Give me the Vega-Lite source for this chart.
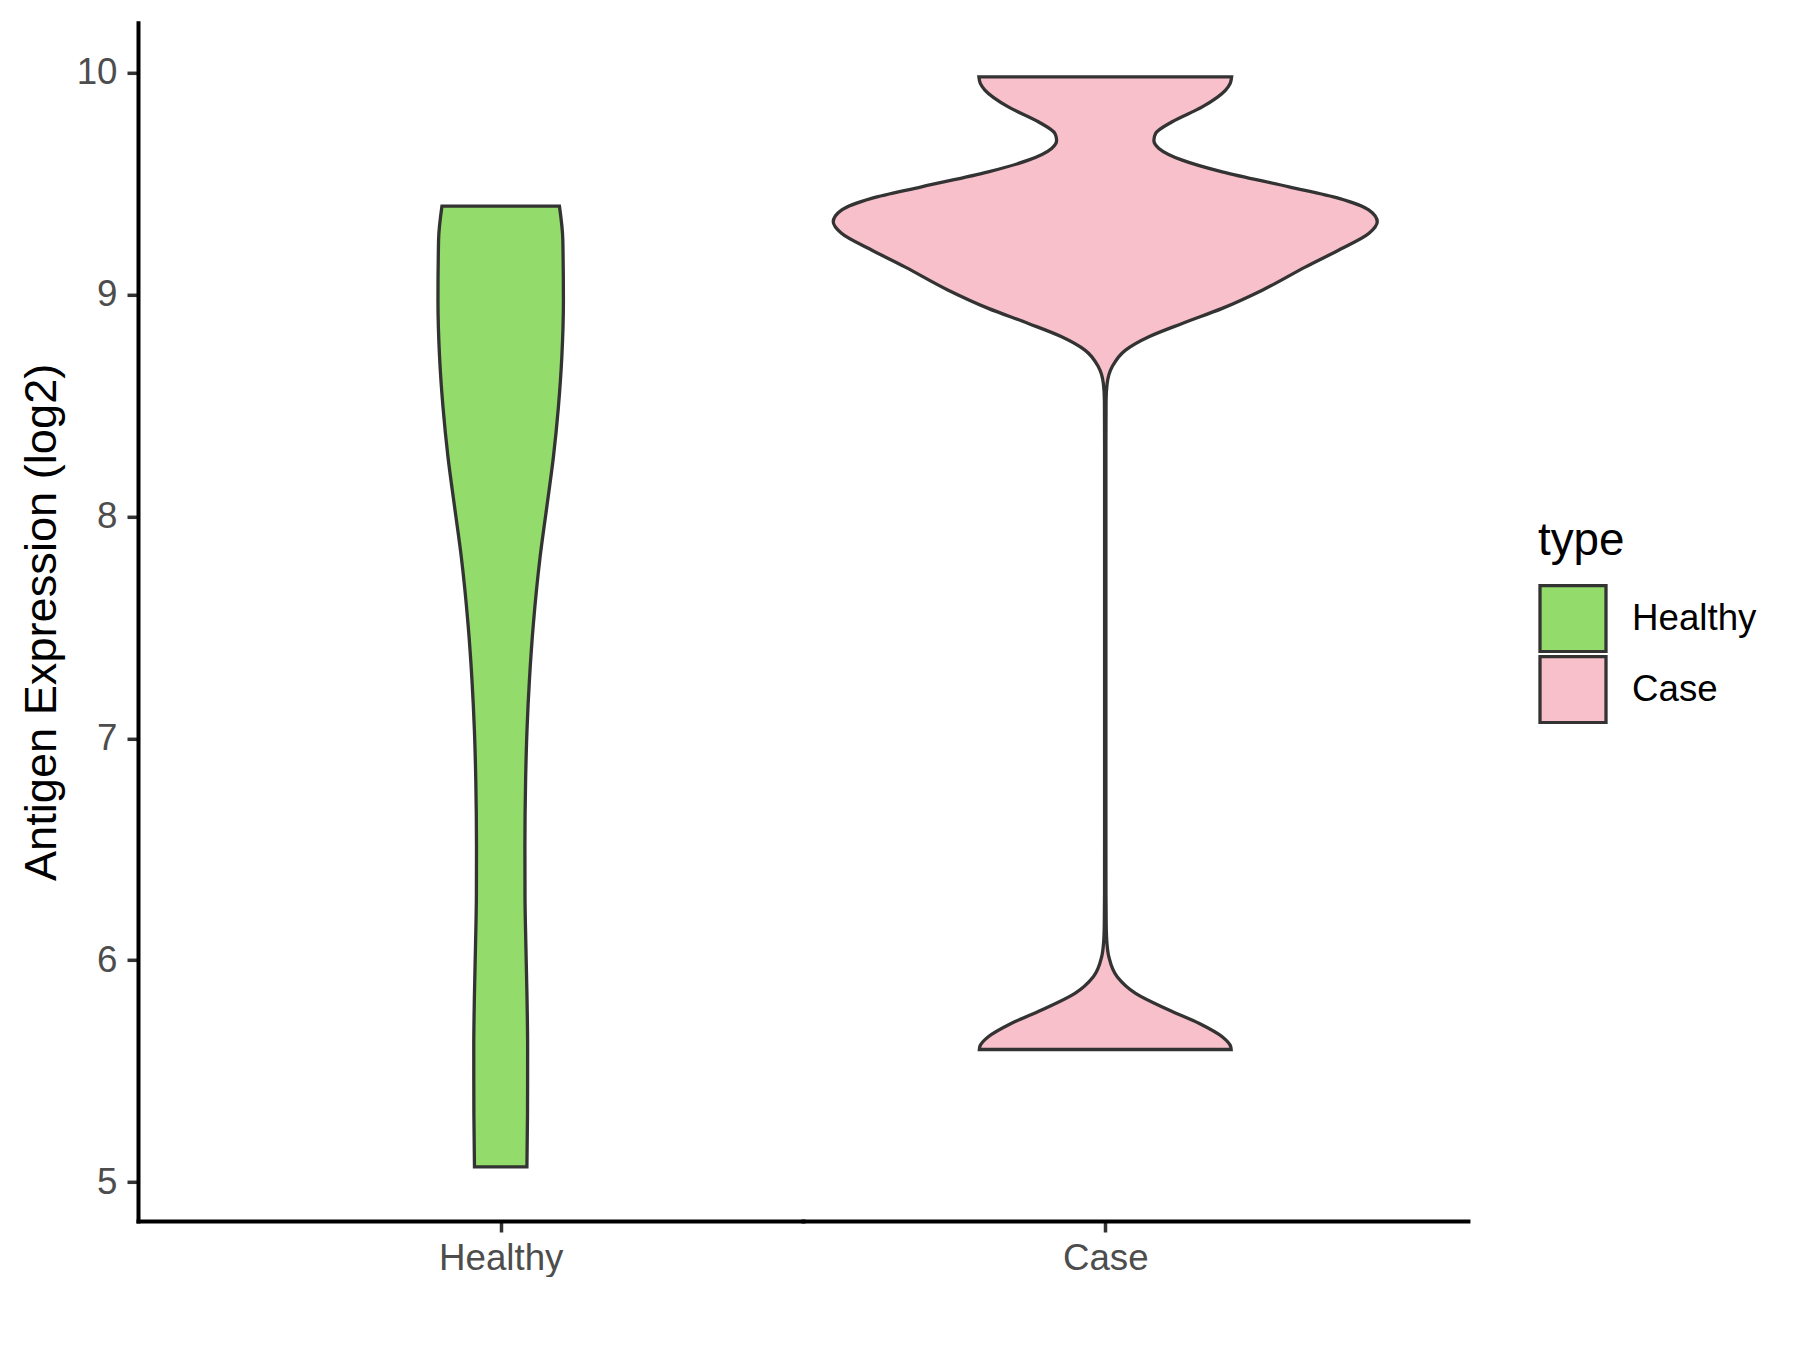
{
  "$schema": "https://vega.github.io/schema/vega-lite/v6.json",
  "background": "white",
  "padding": {"left": 19, "top": 22.8, "right": 0, "bottom": 0},
  "config": {
    "view": {"stroke": null},
    "font": "Liberation Sans"
  },
  "data": {
    "values": [
      {"type": "Healthy", "value": 9.399, "density": 0.2159},
      {"type": "Healthy", "value": 9.246, "density": 0.2284},
      {"type": "Healthy", "value": 8.975, "density": 0.2306},
      {"type": "Healthy", "value": 8.72, "density": 0.2248},
      {"type": "Healthy", "value": 8.494, "density": 0.2122},
      {"type": "Healthy", "value": 8.269, "density": 0.1939},
      {"type": "Healthy", "value": 8.044, "density": 0.1696},
      {"type": "Healthy", "value": 7.818, "density": 0.1449},
      {"type": "Healthy", "value": 7.518, "density": 0.1203},
      {"type": "Healthy", "value": 7.263, "density": 0.1056},
      {"type": "Healthy", "value": 7.037, "density": 0.0967},
      {"type": "Healthy", "value": 6.812, "density": 0.0916},
      {"type": "Healthy", "value": 6.512, "density": 0.089},
      {"type": "Healthy", "value": 6.286, "density": 0.0894},
      {"type": "Healthy", "value": 6.061, "density": 0.0927},
      {"type": "Healthy", "value": 5.835, "density": 0.0967},
      {"type": "Healthy", "value": 5.61, "density": 0.099},
      {"type": "Healthy", "value": 5.31, "density": 0.0986},
      {"type": "Healthy", "value": 5.069, "density": 0.0964},
      {"type": "Case", "value": 9.9815, "density": 0.4646},
      {"type": "Case", "value": 9.952, "density": 0.4594},
      {"type": "Case", "value": 9.922, "density": 0.4425},
      {"type": "Case", "value": 9.846, "density": 0.3564},
      {"type": "Case", "value": 9.779, "density": 0.2461},
      {"type": "Case", "value": 9.726, "density": 0.185},
      {"type": "Case", "value": 9.696, "density": 0.1788},
      {"type": "Case", "value": 9.659, "density": 0.1972},
      {"type": "Case", "value": 9.606, "density": 0.2829},
      {"type": "Case", "value": 9.553, "density": 0.43},
      {"type": "Case", "value": 9.486, "density": 0.6754},
      {"type": "Case", "value": 9.434, "density": 0.8593},
      {"type": "Case", "value": 9.381, "density": 0.9697},
      {"type": "Case", "value": 9.328, "density": 1.0},
      {"type": "Case", "value": 9.276, "density": 0.9697},
      {"type": "Case", "value": 9.201, "density": 0.8593},
      {"type": "Case", "value": 9.125, "density": 0.7368},
      {"type": "Case", "value": 9.02, "density": 0.5772},
      {"type": "Case", "value": 8.938, "density": 0.43},
      {"type": "Case", "value": 8.87, "density": 0.2829},
      {"type": "Case", "value": 8.81, "density": 0.1604},
      {"type": "Case", "value": 8.75, "density": 0.0747},
      {"type": "Case", "value": 8.675, "density": 0.0254},
      {"type": "Case", "value": 8.6, "density": 0.007},
      {"type": "Case", "value": 8.52, "density": 0.003},
      {"type": "Case", "value": 8.3, "density": 0.0024},
      {"type": "Case", "value": 7.5, "density": 0.0024},
      {"type": "Case", "value": 6.8, "density": 0.0024},
      {"type": "Case", "value": 6.3, "density": 0.0026},
      {"type": "Case", "value": 6.16, "density": 0.0035},
      {"type": "Case", "value": 6.09, "density": 0.0055},
      {"type": "Case", "value": 6.016, "density": 0.0132},
      {"type": "Case", "value": 5.926, "density": 0.0438},
      {"type": "Case", "value": 5.851, "density": 0.1115},
      {"type": "Case", "value": 5.776, "density": 0.234},
      {"type": "Case", "value": 5.716, "density": 0.3443},
      {"type": "Case", "value": 5.655, "density": 0.43},
      {"type": "Case", "value": 5.612, "density": 0.4609},
      {"type": "Case", "value": 5.598, "density": 0.4628}
    ]
  },
  "spacing": 0,
  "hconcat": [
    {
      "width": 664.95,
      "height": 1198.2,
      "transform": [{"filter": "datum.type === 'Healthy'"}],
      "mark": {"type": "area", "orient": "horizontal", "interpolate": "monotone", "stroke": "#333333", "strokeWidth": 3.3, "opacity": 1},
      "encoding": {
        "y": {
          "field": "value", "type": "quantitative",
          "scale": {"domain": [4.825, 10.225], "nice": false, "zero": false},
          "axis": {
            "title": "Antigen Expression (log2)",
            "values": [5, 6, 7, 8, 9, 10],
            "grid": false,
            "domainColor": "black", "domainWidth": 4, "domainCap": "square",
            "tickColor": "#333333", "tickWidth": 3.5, "tickSize": 11,
            "labelFont": "Liberation Sans", "labelFontSize": 36.7, "labelColor": "#4D4D4D", "labelPadding": 10,
            "titleFont": "Liberation Sans", "titleFontSize": 45.2, "titleFontWeight": "normal", "titleColor": "black", "titlePadding": 12
          }
        },
        "x": {
          "field": "density", "type": "quantitative", "stack": "center", "impute": null,
          "scale": {"domain": [-0.5514, 0.6709], "nice": false, "zero": false},
          "axis": {
            "title": null, "values": [0.1153], "labelExpr": "'Healthy'", "grid": false,
            "domainColor": "black", "domainWidth": 4, "domainCap": "square",
            "tickColor": "#333333", "tickWidth": 3.5, "tickSize": 11,
            "labelFont": "Liberation Sans", "labelFontSize": 36.7, "labelColor": "#4D4D4D", "labelPadding": 8
          }
        },
        "fill": {
          "field": "type", "type": "nominal",
          "scale": {"domain": ["Healthy", "Case"], "range": ["#93DB6A", "#F8C0CB"]},
          "legend": {
            "title": "type", "orient": "none", "legendX": 1400, "legendY": 496, "padding": 0,
            "symbolType": "square", "symbolSize": 4356, "symbolStrokeColor": "#333333", "symbolStrokeWidth": 3.3, "symbolOpacity": 1,
            "titleFont": "Liberation Sans", "titleFontSize": 45.8, "titleFontWeight": "normal", "titleColor": "black", "titlePadding": 19.5,
            "labelFont": "Liberation Sans", "labelFontSize": 36.7, "labelColor": "black", "labelOffset": 24,
            "rowPadding": 2, "clipHeight": 69
          }
        }
      }
    },
    {
      "width": 664.95,
      "height": 1198.2,
      "transform": [{"filter": "datum.type === 'Case'"}],
      "mark": {"type": "area", "orient": "horizontal", "interpolate": "monotone", "stroke": "#333333", "strokeWidth": 3.3, "opacity": 1},
      "encoding": {
        "y": {
          "field": "value", "type": "quantitative",
          "scale": {"domain": [4.825, 10.225], "nice": false, "zero": false},
          "axis": null
        },
        "x": {
          "field": "density", "type": "quantitative", "stack": "center", "impute": null,
          "scale": {"domain": [-0.0556, 1.1667], "nice": false, "zero": false},
          "axis": {
            "title": null, "values": [0.5], "labelExpr": "'Case'", "grid": false,
            "domainColor": "black", "domainWidth": 4, "domainCap": "square",
            "tickColor": "#333333", "tickWidth": 3.5, "tickSize": 11,
            "labelFont": "Liberation Sans", "labelFontSize": 36.7, "labelColor": "#4D4D4D", "labelPadding": 8
          }
        },
        "fill": {
          "field": "type", "type": "nominal",
          "scale": {"domain": ["Healthy", "Case"], "range": ["#93DB6A", "#F8C0CB"]}
        }
      }
    }
  ],
  "resolve": {"scale": {"x": "independent", "y": "shared", "fill": "shared"}}
}
